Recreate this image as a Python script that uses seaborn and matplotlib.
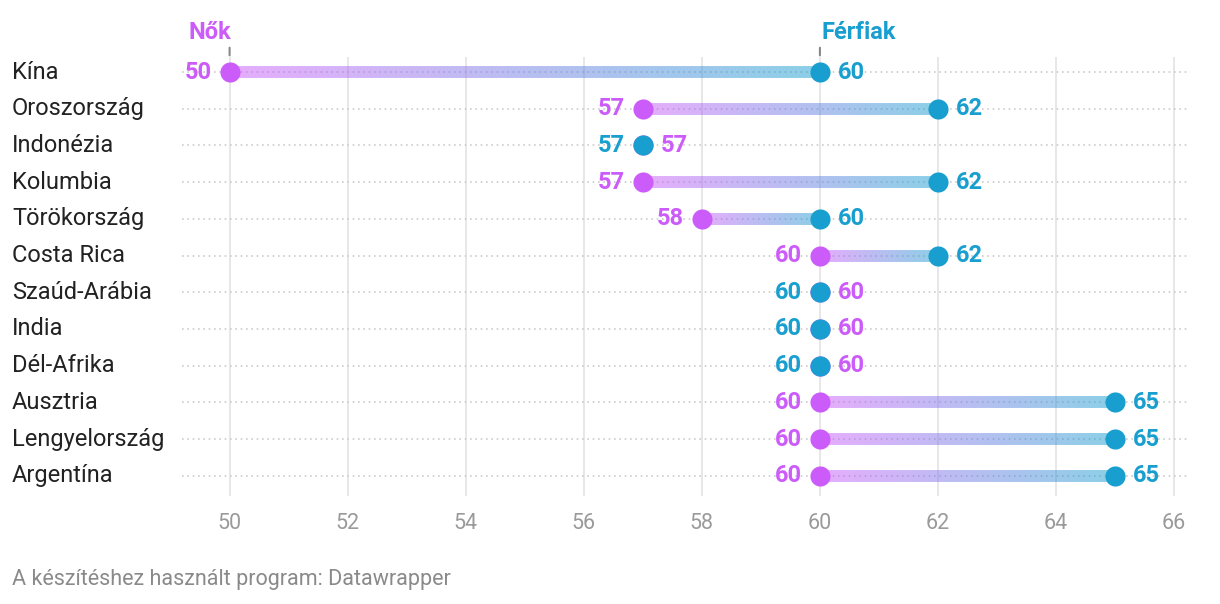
import matplotlib
matplotlib.use("Agg")
import matplotlib.pyplot as plt
import matplotlib.transforms as mtransforms
from matplotlib.collections import LineCollection
from matplotlib.colors import to_rgb
import numpy as np
import pandas as pd
import seaborn as sns

# Retirement age by country (women / men)
countries = ["Kína", "Oroszország", "Indonézia", "Kolumbia", "Törökország", "Costa Rica",
             "Szaúd-Arábia", "India", "Dél-Afrika", "Ausztria", "Lengyelország", "Argentína"]
women = [50, 57, 57, 57, 58, 60, 60, 60, 60, 60, 60, 60]
men = [60, 62, 57, 62, 60, 62, 60, 60, 60, 65, 65, 65]
x_ticks = [50, 52, 54, 56, 58, 60, 62, 64, 66]

PURPLE = "#cc5cfa"
BLUE = "#199fcf"

df = pd.DataFrame({"country": countries, "Nők": women, "Férfiak": men})
df["row"] = range(len(df))

sns.set_theme(style="white")
plt.rcParams["font.family"] = ["Roboto", "DejaVu Sans"]

fig = plt.figure(figsize=(12.2, 6.04), dpi=100)
ax = fig.add_axes([0.149, 0.179, 0.825, 0.726])

ax.set_xlim(49.19, 66.24)
ax.set_ylim(len(df) - 0.45, -0.4)

# grid
for t in x_ticks:
    ax.axvline(t, color="#e3e3e3", lw=1.2, zorder=0)
for r in df["row"]:
    ax.axhline(r, color="#cccccc", lw=1.2, ls=(0, (1, 2.2)), zorder=0.5)

# gradient connectors
c1 = np.array(to_rgb(PURPLE))
c2 = np.array(to_rgb(BLUE))
for _, d in df.iterrows():
    if d["Nők"] == d["Férfiak"]:
        continue
    xs = np.linspace(d["Nők"], d["Férfiak"], 80)
    segs = [[(xs[i], d["row"]), (xs[i + 1], d["row"])] for i in range(len(xs) - 1)]
    t = np.linspace(0, 1, len(segs))[:, None]
    cols = c1 * (1 - t) + c2 * t
    lc = LineCollection(segs, colors=cols, linewidths=8.6, alpha=0.5,
                        capstyle="butt", zorder=1)
    ax.add_collection(lc)

sns.scatterplot(data=df, x="Nők", y="row", color=PURPLE, s=210, linewidth=0,
                zorder=3, ax=ax, legend=False)
sns.scatterplot(data=df, x="Férfiak", y="row", color=BLUE, s=210, linewidth=0,
                zorder=4, ax=ax, legend=False)

# value labels
LBL = dict(va="center", fontsize=17, fontweight="bold")
for _, d in df.iterrows():
    w, m, r = d["Nők"], d["Férfiak"], d["row"]
    if w == m:
        ax.annotate(str(m), (m, r), xytext=(-13, 0), textcoords="offset points",
                    ha="right", color=BLUE, **LBL)
        ax.annotate(str(w), (w, r), xytext=(13, 0), textcoords="offset points",
                    ha="left", color=PURPLE, **LBL)
    else:
        ax.annotate(str(w), (w, r), xytext=(-13, 0), textcoords="offset points",
                    ha="right", color=PURPLE, **LBL)
        ax.annotate(str(m), (m, r), xytext=(13, 0), textcoords="offset points",
                    ha="left", color=BLUE, **LBL)

# series headers above the first row
for name, val, col, ha in [("Nők", women[0], PURPLE, "right"),
                           ("Férfiak", men[0], BLUE, "left")]:
    ax.annotate("", xy=(val, -0.38), xytext=(val, -0.74), textcoords="data",
                arrowprops=dict(arrowstyle="-", color="#888888", lw=1.5),
                annotation_clip=False)
    ax.text(val + (0.02 if ha == "left" else 0.02), -1.07, name, ha=ha, va="center",
            color=col, fontsize=17, fontweight="bold", clip_on=False)

# country labels, left aligned at the figure edge
trans = mtransforms.blended_transform_factory(fig.transFigure, ax.transData)
for _, d in df.iterrows():
    ax.text(12 / 1220, d["row"], d["country"], transform=trans, ha="left", va="center",
            fontsize=17, color="#222222")

ax.set_xticks(x_ticks)
ax.set_xticklabels([str(t) for t in x_ticks], color="#9a9a9a", fontsize=15.5)
ax.tick_params(axis="x", length=0, pad=12)
ax.set_yticks([])
ax.set_xlabel("")
ax.set_ylabel("")
for s in ax.spines.values():
    s.set_visible(False)

fig.text(12 / 1220, 1 - 580 / 604, "A készítéshez használt program: Datawrapper",
         ha="left", va="center", fontsize=15.5, color="#8a8a8a")

fig.savefig("out.png", dpi=100)
